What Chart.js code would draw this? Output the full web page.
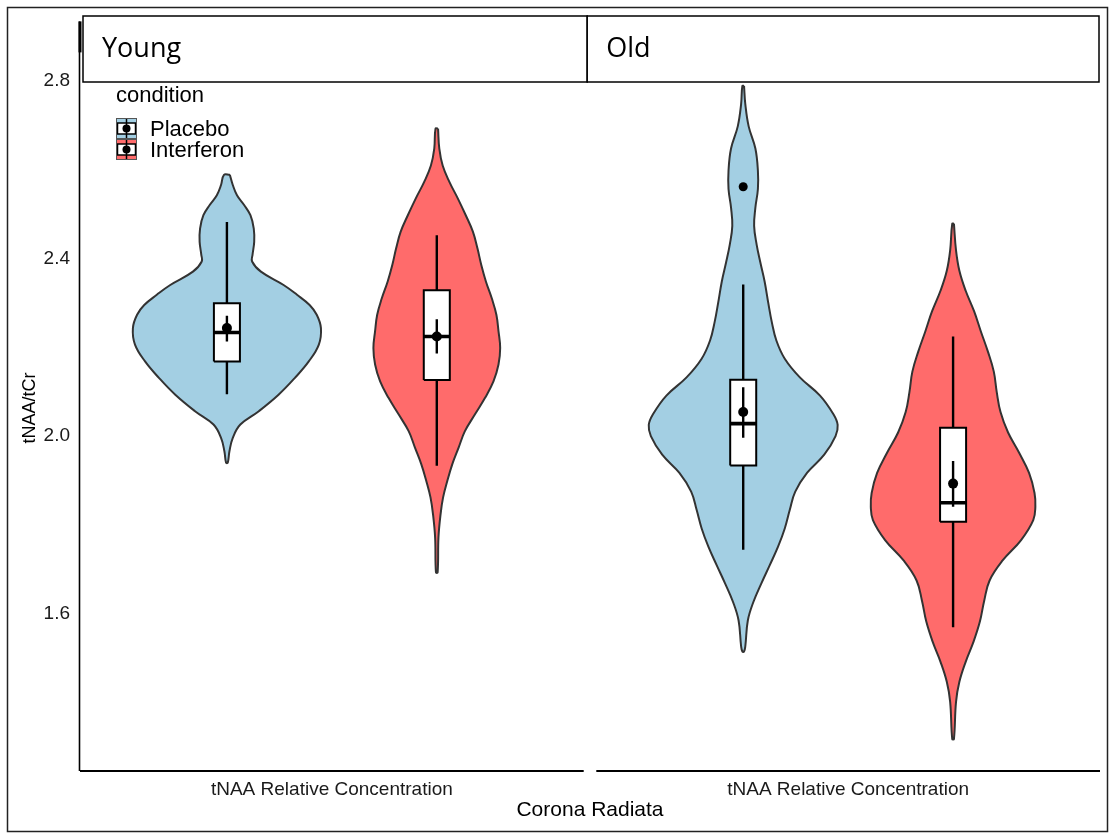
<!DOCTYPE html>
<html>
<head>
<meta charset="utf-8">
<title>tNAA/tCr – Corona Radiata</title>
<script src="https://cdn.jsdelivr.net/npm/chart.js@4.4.1/dist/chart.umd.min.js"></script>
<style>
  html, body { margin: 0; padding: 0; background: #ffffff; }
  #wrap { position: relative; width: 1110px; height: 835px; }
  canvas { display: block; }
</style>
</head>
<body>
<div id="wrap"><canvas id="chart" width="1110" height="835"></canvas></div>
<script>
// ---------------- data ----------------
const facets = ['Young', 'Old'];
const conditions = ['Placebo', 'Interferon'];
const xTickLabels = ['tNAA Relative Concentration', 'tNAA Relative Concentration'];
const yTicks = [1.6, 2.0, 2.4, 2.8];

// Violin density outlines: value levels (top to bottom) and half-widths in x units
const youngPlaceboLevels = [2.588, 2.565, 2.542, 2.520, 2.497, 2.467, 2.437, 2.408, 2.393, 2.370, 2.340, 2.318, 2.295, 2.273, 2.243, 2.206, 2.168, 2.131, 2.093, 2.056, 2.026, 1.996, 1.966, 1.940];
const youngPlaceboWidths = [0.007, 0.014, 0.024, 0.041, 0.056, 0.064, 0.065, 0.061, 0.060, 0.081, 0.135, 0.167, 0.197, 0.214, 0.224, 0.219, 0.195, 0.162, 0.123, 0.076, 0.032, 0.014, 0.006, 0.002];

const youngInterferonLevels = [2.692, 2.647, 2.609, 2.572, 2.535, 2.497, 2.460, 2.422, 2.385, 2.348, 2.310, 2.273, 2.236, 2.198, 2.161, 2.123, 2.086, 2.049, 2.011, 1.974, 1.937, 1.899, 1.862, 1.824, 1.772, 1.693];
const youngInterferonWidths = [0.003, 0.006, 0.014, 0.030, 0.050, 0.069, 0.086, 0.097, 0.106, 0.117, 0.131, 0.142, 0.147, 0.151, 0.147, 0.135, 0.115, 0.091, 0.067, 0.052, 0.037, 0.025, 0.015, 0.009, 0.004, 0.002];

const oldPlaceboLevels = [2.788, 2.747, 2.697, 2.647, 2.597, 2.556, 2.514, 2.473, 2.431, 2.390, 2.348, 2.298, 2.257, 2.215, 2.174, 2.132, 2.091, 2.049, 2.025, 2.000, 1.958, 1.917, 1.875, 1.834, 1.792, 1.751, 1.709, 1.668, 1.626, 1.585, 1.527, 1.515];
const oldPlaceboWidths = [0.002, 0.005, 0.013, 0.029, 0.035, 0.035, 0.029, 0.026, 0.032, 0.041, 0.051, 0.060, 0.068, 0.079, 0.099, 0.135, 0.183, 0.215, 0.225, 0.220, 0.193, 0.152, 0.124, 0.111, 0.099, 0.083, 0.063, 0.043, 0.024, 0.011, 0.005, 0.002];

const oldInterferonLevels = [2.478, 2.418, 2.372, 2.327, 2.281, 2.236, 2.190, 2.145, 2.099, 2.054, 2.008, 1.963, 1.917, 1.872, 1.841, 1.811, 1.766, 1.720, 1.675, 1.629, 1.583, 1.538, 1.492, 1.447, 1.402, 1.318];
const oldInterferonWidths = [0.002, 0.007, 0.015, 0.030, 0.050, 0.066, 0.083, 0.097, 0.104, 0.113, 0.131, 0.157, 0.181, 0.194, 0.196, 0.191, 0.162, 0.118, 0.087, 0.074, 0.064, 0.049, 0.030, 0.015, 0.007, 0.002];

// Box statistics: [lower whisker, Q1, median, Q3, upper whisker]
const youngPlaceboBox    = [2.094, 2.168, 2.233, 2.299, 2.482];
const youngInterferonBox = [1.933, 2.126, 2.224, 2.328, 2.452];
const oldPlaceboBox      = [1.744, 1.934, 2.028, 2.127, 2.341];
const oldInterferonBox   = [1.570, 1.807, 1.850, 2.019, 2.224];

// Mean with error bar: [lower, mean, upper]
const youngPlaceboMean    = [2.213, 2.243, 2.271];
const youngInterferonMean = [2.186, 2.224, 2.263];
const oldPlaceboMean      = [1.996, 2.054, 2.110];
const oldInterferonMean   = [1.841, 1.893, 1.944];

// Boxplot outliers
const youngPlaceboOutliers = [];
const youngInterferonOutliers = [];
const oldPlaceboOutliers = [2.561];
const oldInterferonOutliers = [];

// ---------------- layout & style ----------------
const FONT = '"Liberation Sans", Arial, Helvetica, sans-serif';
const STRIP_FONT = '"Open Sans", "Noto Sans", sans-serif';
const fills = ['#A3CFE3', '#FF6B6B'];
const outline = '#333333';
const facetCentre = [1, 2.23];   // panel centres on the shared x axis
const panelHalf = 0.6;           // each panel spans centre ± 0.6
const dodge = 0.25;
const boxHalf = 0.031;

const groups = [
  { facet: 0, cond: 0, levels: youngPlaceboLevels, widths: youngPlaceboWidths, box: youngPlaceboBox, mean: youngPlaceboMean, out: youngPlaceboOutliers },
  { facet: 0, cond: 1, levels: youngInterferonLevels, widths: youngInterferonWidths, box: youngInterferonBox, mean: youngInterferonMean, out: youngInterferonOutliers },
  { facet: 1, cond: 0, levels: oldPlaceboLevels, widths: oldPlaceboWidths, box: oldPlaceboBox, mean: oldPlaceboMean, out: oldPlaceboOutliers },
  { facet: 1, cond: 1, levels: oldInterferonLevels, widths: oldInterferonWidths, box: oldInterferonBox, mean: oldInterferonMean, out: oldInterferonOutliers }
];

function violinPath(c, levels, widths) {
  const right = levels.map((v, i) => ({ x: c + widths[i], y: v }));
  const left = levels.map((v, i) => ({ x: c - widths[i], y: v })).reverse();
  return right.concat(left, [right[0]]);
}

const lineBase = { type: 'scatter', showLine: true, pointRadius: 0, pointHoverRadius: 0, fill: false };
const datasets = [];

groups.forEach(g => {
  const c = facetCentre[g.facet] + (g.cond === 0 ? -dodge : dodge);
  const [lo, q1, med, q3, hi] = g.box;
  const [mLo, m, mHi] = g.mean;

  datasets.push(Object.assign({}, lineBase, {
    label: facets[g.facet] + ' ' + conditions[g.cond] + ' violin',
    data: violinPath(c, g.levels, g.widths),
    fill: 'shape', backgroundColor: fills[g.cond],
    borderColor: outline, borderWidth: 2, tension: 0.4,
    borderJoinStyle: 'round', order: 6
  }));
  datasets.push(Object.assign({}, lineBase, {
    label: 'whisker low', data: [{ x: c, y: lo }, { x: c, y: q1 }],
    borderColor: '#000', borderWidth: 2.4, order: 5
  }));
  datasets.push(Object.assign({}, lineBase, {
    label: 'whisker high', data: [{ x: c, y: q3 }, { x: c, y: hi }],
    borderColor: '#000', borderWidth: 2.4, order: 5
  }));
  datasets.push(Object.assign({}, lineBase, {
    label: 'box',
    data: [{ x: c - boxHalf, y: q1 }, { x: c + boxHalf, y: q1 }, { x: c + boxHalf, y: q3 }, { x: c - boxHalf, y: q3 }, { x: c - boxHalf, y: q1 }],
    fill: 'shape', backgroundColor: '#ffffff', borderColor: '#000', borderWidth: 2,
    borderJoinStyle: 'miter', tension: 0, order: 4
  }));
  datasets.push(Object.assign({}, lineBase, {
    label: 'median', data: [{ x: c - boxHalf, y: med }, { x: c + boxHalf, y: med }],
    borderColor: '#000', borderWidth: 3.6, borderCapStyle: 'butt', order: 3
  }));
  datasets.push(Object.assign({}, lineBase, {
    label: 'mean error', data: [{ x: c, y: mLo }, { x: c, y: mHi }],
    borderColor: '#000', borderWidth: 2.4, order: 2
  }));
  datasets.push({
    type: 'scatter', label: 'mean', data: [{ x: c, y: m }],
    pointRadius: 5, pointBackgroundColor: '#000', pointBorderColor: '#000', pointBorderWidth: 0, order: 1
  });
  if (g.out.length) {
    datasets.push({
      type: 'scatter', label: 'outliers', data: g.out.map(v => ({ x: c, y: v })),
      pointRadius: 4.5, pointBackgroundColor: '#000', pointBorderColor: '#000', pointBorderWidth: 0, order: 1
    });
  }
});

// ---------------- decorations: frame, axes lines, strips, legend ----------------
function text(ctx, s, x, y, font, align, baseline, color) {
  ctx.save();
  ctx.font = font;
  ctx.textAlign = align || 'left';
  ctx.textBaseline = baseline || 'middle';
  ctx.fillStyle = color || '#000';
  ctx.fillText(s, x, y);
  ctx.restore();
}

const decor = {
  id: 'facetDecor',
  afterDraw(chart) {
    const ctx = chart.ctx;
    const xs = chart.scales.x;
    const area = chart.chartArea;
    ctx.save();

    // outer border
    ctx.strokeStyle = '#222';
    ctx.lineWidth = 1.5;
    ctx.strokeRect(7.5, 7.5, 1100, 824);

    // y axis line
    ctx.strokeStyle = '#000';
    ctx.lineWidth = 1.6;
    ctx.beginPath();
    ctx.moveTo(area.left - 0.5, area.top);
    ctx.lineTo(area.left - 0.5, area.bottom + 1);
    ctx.stroke();
    ctx.lineWidth = 3;
    ctx.beginPath();
    ctx.moveTo(area.left, area.top);
    ctx.lineTo(area.left, area.top + 31);
    ctx.stroke();

    // x axis line per panel
    ctx.lineWidth = 2;
    facetCentre.forEach(fc => {
      const l = Math.max(xs.getPixelForValue(fc - panelHalf), area.left - 1);
      const r = Math.min(xs.getPixelForValue(fc + panelHalf), area.right);
      ctx.beginPath();
      ctx.moveTo(l, area.bottom + 1);
      ctx.lineTo(r, area.bottom + 1);
      ctx.stroke();
    });

    // facet strips
    const stripTop = 16, stripBottom = 82;
    const boundary = xs.getPixelForValue(facetCentre[0] + panelHalf) + 3.5;
    const stripEdges = [[area.left + 3, boundary], [boundary, area.right - 1]];
    facets.forEach((name, i) => {
      const [l, r] = stripEdges[i];
      ctx.fillStyle = '#ffffff';
      ctx.fillRect(l, stripTop, r - l, stripBottom - stripTop);
      ctx.strokeStyle = '#000';
      ctx.lineWidth = 1.5;
      ctx.strokeRect(l, stripTop, r - l, stripBottom - stripTop);
      text(ctx, name, l + 19, 57, '27px ' + STRIP_FONT, 'left', 'alphabetic', '#000');
    });

    // legend
    text(ctx, 'condition', 116, 96, '22px ' + FONT, 'left', 'middle', '#000');
    conditions.forEach((name, i) => {
      const kx = 116, ky = 118 + i * 21, kw = 21, kh = 21;
      ctx.fillStyle = fills[i];
      ctx.fillRect(kx, ky, kw, kh);
      ctx.fillStyle = '#fff';
      ctx.fillRect(kx + 1.5, ky + 5, kw - 3, kh - 10);
      ctx.strokeStyle = '#000';
      ctx.lineWidth = 1.5;
      ctx.strokeRect(kx + 1.5, ky + 5, kw - 3, kh - 10);
      ctx.beginPath();
      ctx.moveTo(kx + kw / 2, ky + 1);
      ctx.lineTo(kx + kw / 2, ky + kh - 1);
      ctx.stroke();
      ctx.beginPath();
      ctx.arc(kx + kw / 2, ky + kh / 2, 4, 0, Math.PI * 2);
      ctx.fillStyle = '#000';
      ctx.fill();
      ctx.strokeStyle = '#555';
      ctx.lineWidth = 1;
      ctx.strokeRect(kx + 0.5, ky + 0.5, kw - 1, kh - 1);
      text(ctx, name, 150, ky + kh / 2 + 1, '22px ' + FONT, 'left', 'middle', '#000');
    });

    // y axis title
    ctx.save();
    ctx.translate(30, 408);
    ctx.rotate(-Math.PI / 2);
    text(ctx, 'tNAA/tCr', 0, 0, '18px ' + FONT, 'center', 'middle', '#000');
    ctx.restore();

    ctx.restore();
  }
};

Chart.defaults.font.family = FONT;

new Chart(document.getElementById('chart'), {
  type: 'scatter',
  data: { datasets },
  options: {
    responsive: false,
    animation: false,
    devicePixelRatio: 1,
    events: [],
    layout: { padding: { top: 19, right: 10, left: 0, bottom: 0 } },
    plugins: { legend: { display: false }, tooltip: { enabled: false } },
    scales: {
      x: {
        type: 'linear',
        min: facetCentre[0] - panelHalf,
        max: facetCentre[1] + panelHalf,
        grid: { display: false, drawTicks: false },
        border: { display: false },
        afterBuildTicks: s => { s.ticks = facetCentre.map(v => ({ value: v })); },
        ticks: {
          autoSkip: false, maxRotation: 0, minRotation: 0, padding: 8,
          color: '#1a1a1a', font: { size: 19 },
          callback: (v, i) => xTickLabels[i]
        },
        title: { display: true, text: 'Corona Radiata', color: '#000', font: { size: 21 }, padding: { top: 0, bottom: 12 } },
        afterFit: s => { s.height = 65; }
      },
      y: {
        type: 'linear',
        min: 1.2485,
        max: 2.9332,
        grid: { display: false, drawTicks: false },
        border: { display: false },
        afterBuildTicks: s => { s.ticks = yTicks.map(v => ({ value: v })); },
        ticks: {
          padding: 10, color: '#1a1a1a', font: { size: 19 },
          callback: v => Number(v).toFixed(1)
        },
        afterFit: s => { s.width = 80; }
      }
    }
  },
  plugins: [decor]
});
</script>
</body>
</html>
